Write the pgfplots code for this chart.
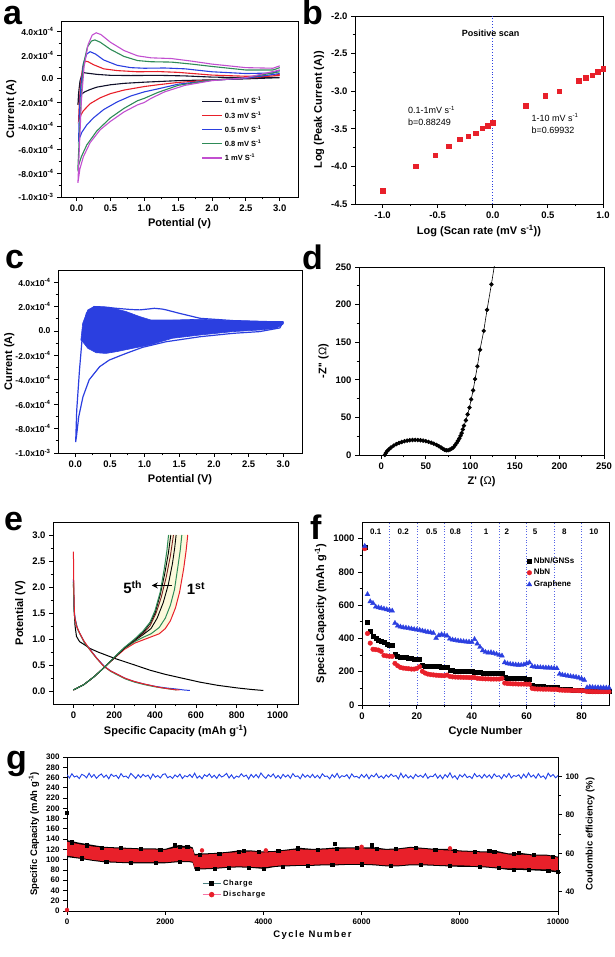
\documentclass[border=0pt]{standalone}
\usepackage{fontspec}
\setmainfont{Liberation Sans}
\usepackage{pgfplots}
\pgfplotsset{compat=1.18}
\usetikzlibrary{arrows.meta}

\definecolor{cvred}{HTML}{E8202A}
\definecolor{cvblue}{HTML}{2B3FE0}
\definecolor{cvgreen}{HTML}{2E8B57}
\definecolor{cvmag}{HTML}{C24FD0}
\definecolor{cvblack}{HTML}{10102A}
\definecolor{cvbrown}{HTML}{7A2020}
\definecolor{lightyel}{HTML}{FCF9DC}
\definecolor{ceblue}{HTML}{2040E8}

\newcommand{\fs}[1]{\fontsize{#1}{#1}\selectfont}
\newcommand{\sy}[1]{\textsuperscript{#1}}

\pgfplotsset{
  panel/.style={
    scale only axis, anchor=south west, clip=true,
    axis line style={line width=0.9pt},
    tick align=outside, tick pos=left,
    major tick length=4pt, minor tick length=2.5pt,
    every tick/.style={black, line width=0.8pt},
    tick label style={font=\fs{9.5}\bfseries},
    label style={font=\fs{11}\bfseries},
    /pgf/number format/assume math mode=true,
    /pgf/number format/1000 sep={},
    scaled ticks=false,
  },
  onedec/.style={/pgf/number format/.cd, fixed, fixed zerofill, precision=1},
}

\begin{document}
\begin{tikzpicture}
\path[use as bounding box] (0,0) rectangle (614pt,957pt);

% ---------------- a ----------------
\begin{axis}[panel, at={(61pt,760pt)}, width=237pt, height=176pt,
  xmin=-0.23, xmax=3.27, ymin=-10, ymax=4.9,
  xtick={0,0.5,1,1.5,2,2.5,3}, xticklabels={0.0,0.5,1.0,1.5,2.0,2.5,3.0},
  minor x tick num=1,
  ytick={-10,-8,-6,-4,-2,0,2,4},
  yticklabels={-1.0x10\sy{-3},-8.0x10\sy{-4},-6.0x10\sy{-4},-4.0x10\sy{-4},-2.0x10\sy{-4},0.0,2.0x10\sy{-4},4.0x10\sy{-4}},
  yticklabel style={font=\fs{8.6}\bfseries},
  minor y tick num=1,
  xlabel={Potential (v)}, ylabel={Current (A)},
  ylabel style={at={(axis description cs:-0.21,0.5)}, anchor=center},
  legend style={at={(0.58,0.59)}, anchor=north west, draw=none, fill=none,
    font=\fs{7.5}\bfseries, row sep=2pt},
  legend cell align=left,
  legend image code/.code={\draw[#1,line width=1.3pt] (0pt,0pt) -- (20pt,0pt);}]
\addplot[cvblack, line width=1.1pt] coordinates {(3.0,0.1) (2.5,0.0) (2.0,-0.08) (1.5,-0.15) (1.0,-0.28) (0.7,-0.38) (0.5,-0.5) (0.3,-0.7) (0.2,-0.9) (0.12,-1.1) (0.06,-1.35) (0.03,-1.7) (0.02,-2.2) (0.03,-1.2) (0.05,-0.2) (0.08,0.4) (0.11,0.52) (0.16,0.48) (0.3,0.38) (0.5,0.3) (0.8,0.28) (1.2,0.3) (1.6,0.25) (2.0,0.15) (2.5,0.1) (3.0,0.12)};
\addlegendentry{0.1 mV S\sy{-1}}
\addplot[cvred, line width=1.1pt] coordinates {(3.0,0.3) (2.5,0.05) (2.0,-0.1) (1.5,-0.3) (1.2,-0.5) (1.0,-0.65) (0.7,-0.95) (0.5,-1.25) (0.35,-1.6) (0.2,-2.1) (0.1,-2.7) (0.05,-3.2) (0.03,-3.5) (0.04,-2.0) (0.06,-0.3) (0.09,1.0) (0.13,1.5) (0.17,1.45) (0.25,1.2) (0.4,0.85) (0.6,0.7) (0.9,0.6) (1.2,0.62) (1.5,0.55) (2.0,0.32) (2.5,0.22) (2.9,0.25) (3.0,0.4)};
\addlegendentry{0.3 mV S\sy{-1}}
\addplot[cvblue, line width=1.1pt] coordinates {(3.0,0.45) (2.5,0.05) (2.0,-0.12) (1.5,-0.45) (1.2,-0.85) (1.0,-1.1) (0.8,-1.45) (0.6,-1.95) (0.4,-2.6) (0.25,-3.3) (0.15,-3.9) (0.08,-4.5) (0.03,-5.2) (0.04,-3.0) (0.06,-0.8) (0.1,1.3) (0.15,2.1) (0.2,2.3) (0.28,2.1) (0.4,1.6) (0.6,1.15) (0.8,0.95) (1.0,0.9) (1.3,0.92) (1.6,0.85) (2.0,0.6) (2.5,0.45) (2.9,0.5) (3.0,0.75)};
\addlegendentry{0.5 mV S\sy{-1}}
\addplot[cvgreen, line width=1.1pt] coordinates {(3.0,0.6) (2.5,0.1) (2.0,-0.1) (1.5,-0.55) (1.2,-1.15) (1.0,-1.65) (0.9,-1.85) (0.7,-2.5) (0.5,-3.3) (0.3,-4.4) (0.15,-5.6) (0.07,-6.6) (0.02,-7.5) (0.04,-5.0) (0.07,-1.5) (0.1,1.2) (0.16,2.7) (0.22,3.2) (0.27,3.3) (0.35,3.1) (0.5,2.5) (0.7,1.9) (0.9,1.55) (1.1,1.45) (1.4,1.42) (1.7,1.25) (2.0,1.05) (2.5,0.75) (2.9,0.75) (3.0,0.95)};
\addlegendentry{0.8 mV S\sy{-1}}
\addplot[cvmag, line width=1.1pt] coordinates {(3.0,0.75) (2.5,0.1) (2.0,-0.15) (1.6,-0.55) (1.3,-1.1) (1.1,-1.65) (1.0,-2.0) (0.9,-2.2) (0.7,-2.8) (0.5,-3.6) (0.35,-4.3) (0.2,-5.4) (0.1,-6.6) (0.05,-7.6) (0.02,-8.8) (0.04,-6.0) (0.07,-2.0) (0.11,1.0) (0.17,2.9) (0.23,3.7) (0.29,3.9) (0.36,3.75) (0.5,3.1) (0.7,2.4) (0.9,1.95) (1.1,1.78) (1.4,1.72) (1.7,1.5) (2.0,1.25) (2.5,0.95) (2.9,0.9) (3.0,1.1)};
\addlegendentry{1 mV S\sy{-1}}
\end{axis}

% ---------------- b ----------------
\begin{axis}[panel, at={(355pt,753pt)}, width=248pt, height=188pt,
  xmin=-1.25, xmax=1.0, ymin=-4.5, ymax=-2.0,
  xtick={-1,-0.5,0,0.5,1}, ytick={-4.5,-4,-3.5,-3,-2.5,-2},
  minor x tick num=1, minor y tick num=1,
  xticklabel style={onedec}, yticklabel style={onedec},
  xlabel={Log (Scan rate (mV s\sy{-1}))}, ylabel={Log (Peak Current (A))}]
\addplot[cvblue, dotted, line width=0.8pt] coordinates {(0,-4.5) (0,-2.0)};
\addplot[only marks, mark=square*, mark size=2.3pt, color=cvred] coordinates {
(-1.0,-4.32) (-0.699,-4.0) (-0.523,-3.85) (-0.398,-3.73) (-0.301,-3.64) (-0.222,-3.60) (-0.155,-3.56) (-0.097,-3.49) (-0.046,-3.46) (0,-3.42)
(0.301,-3.19) (0.477,-3.06) (0.602,-3.00) (0.778,-2.86) (0.845,-2.82) (0.903,-2.79) (0.954,-2.74) (1.0,-2.70)};
\node[font=\fs{9}\bfseries] at (axis cs:-0.02,-2.225) {Positive scan};
\node[font=\fs{9}, anchor=west] at (axis cs:-0.80,-3.25) {0.1-1mV s\sy{-1}};
\node[font=\fs{9}, anchor=west] at (axis cs:-0.80,-3.42) {b=0.88249};
\node[font=\fs{9}, anchor=west] at (axis cs:0.32,-3.35) {1-10 mV s\sy{-1}};
\node[font=\fs{9}, anchor=west] at (axis cs:0.32,-3.52) {b=0.69932};
\end{axis}

% ---------------- c ----------------
\begin{axis}[panel, at={(58pt,504pt)}, width=244pt, height=183pt,
  xmin=-0.25, xmax=3.27, ymin=-10, ymax=5.0,
  xtick={0,0.5,1,1.5,2,2.5,3}, xticklabels={0.0,0.5,1.0,1.5,2.0,2.5,3.0},
  minor x tick num=1,
  ytick={-10,-8,-6,-4,-2,0,2,4},
  yticklabels={-1.0x10\sy{-3},-8.0x10\sy{-4},-6.0x10\sy{-4},-4.0x10\sy{-4},-2.0x10\sy{-4},0.0,2.0x10\sy{-4},4.0x10\sy{-4}},
  yticklabel style={font=\fs{8.6}\bfseries},
  minor y tick num=1,
  xlabel={Potential (V)}, ylabel={Current (A)},
  ylabel style={at={(axis description cs:-0.2,0.5)}, anchor=center}]
\addplot[fill=cvblue, draw=cvblue, line width=0.6pt] coordinates {(0.08,-0.74) (0.106,0.63) (0.18,1.73) (0.27,2.0) (0.49,1.95) (0.73,1.6) (0.93,1.18) (1.09,0.9) (1.4,0.9) (1.8,0.96) (2.28,0.85) (2.76,0.77) (3.0,0.75) (3.0,0.58) (2.9,0.22) (2.66,0.08) (2.28,-0.05) (1.8,-0.33) (1.4,-0.6) (1.07,-1.15) (0.83,-1.42) (0.59,-1.7) (0.44,-1.84) (0.3,-1.78) (0.18,-1.42) (0.106,-0.88) (0.08,-0.74)};
\addplot[cvblue, line width=1.2pt] coordinates {(3.0,0.75) (2.95,0.25) (2.66,-0.05) (2.28,-0.19) (1.8,-0.47) (1.31,-0.88) (0.97,-1.34) (0.73,-1.84) (0.49,-2.38) (0.35,-2.93) (0.2,-4.0) (0.11,-5.4) (0.05,-7.0) (0.015,-8.7) (0.005,-9.1) (0.02,-6.5) (0.06,-3.2) (0.1,-0.5) (0.16,1.45) (0.27,2.0) (0.4,1.97) (0.59,1.86) (0.8,1.76) (0.93,1.73) (1.05,1.8) (1.14,1.86) (1.25,1.8) (1.31,1.73) (1.5,1.45) (1.8,1.04) (2.28,0.85) (2.76,0.77) (3.0,0.75)};
\end{axis}

% ---------------- d ----------------
\begin{axis}[panel, at={(359pt,502pt)}, width=245pt, height=188pt,
  xmin=-25, xmax=250, ymin=0, ymax=250,
  xtick={0,50,100,150,200,250}, ytick={0,50,100,150,200,250},
  minor x tick num=1, minor y tick num=1,
  xlabel={Z\textquotesingle\ ({\mdseries Ω})}, ylabel={-Z\textquotesingle\textquotesingle\ ({\mdseries Ω})}]
\addplot[black, line width=0.6pt, mark=*, mark size=1.9pt] coordinates {
(4,0) (5,2.5) (6.5,5) (8.5,7.5) (11,10) (14,12.5) (17,14.5) (20,16) (23,17.3) (26,18.3) (29,19.1) (32,19.6) (35,19.9) (38,20) (41,19.9) (44,19.6) (47,19.1) (50,18.4) (53,17.5) (56,16.4) (59,15) (62,13.4) (64.5,11.8) (67,10) (69,8.4) (71,7) (73,6.2) (75,6.3) (77,7.2) (79,8.6) (80.9,10) (82.8,13) (84.6,16) (86.1,19) (87.6,22) (89,25.5) (90.2,29) (91.5,34) (92.8,39) (95,46) (96.9,54) (99,63) (100.9,74) (103.1,86) (105.3,101) (107.9,118) (110.8,140) (115,165) (118.7,193) (123.6,227) (127,252)};
\end{axis}

% ---------------- e ----------------
\begin{axis}[panel, at={(53pt,253pt)}, width=245pt, height=182pt,
  xmin=-100, xmax=1100, ymin=-0.25, ymax=3.25,
  xtick={0,200,400,600,800,1000}, ytick={0,0.5,1,1.5,2,2.5,3},
  minor x tick num=1, minor y tick num=1,
  yticklabel style={onedec},
  xlabel={Specific Capacity (mAh g\sy{-1})}, ylabel={Potential (V)}]
\addplot[fill=lightyel, draw=none] coordinates {(250,0.8) (300,0.92) (340,0.98) (380,1.04) (420,1.1) (450,1.2) (475,1.35) (500,1.6) (520,1.9) (540,2.35) (552,2.7) (560,3.0) (466,3.0) (458,2.7) (445,2.35) (425,1.9) (400,1.55) (375,1.32) (340,1.15) (300,1.0) (250,0.83)};
\addplot[black, line width=1pt] coordinates {(0,2.05) (3,1.6) (8,1.25) (15,1.05) (30,0.95) (50,0.9) (80,0.82) (120,0.75) (200,0.63) (300,0.5) (375,0.40) (450,0.32) (540,0.24) (620,0.17) (705,0.11) (800,0.06) (870,0.03) (930,0.01)};
\addplot[cvblue, line width=1pt] coordinates {(0,2.15) (3,1.6) (8,1.4) (20,1.2) (35,1.08) (55,0.93) (85,0.78) (115,0.63) (150,0.48) (185,0.38) (215,0.32) (255,0.24) (300,0.18) (350,0.13) (400,0.09) (450,0.06) (500,0.04) (540,0.02) (570,0.01)};
\addplot[cvgreen, line width=1pt] coordinates {(0,2.1) (3,1.55) (8,1.38) (20,1.19) (35,1.07) (55,0.92) (85,0.77) (115,0.62) (150,0.47) (185,0.37) (215,0.31) (255,0.23) (300,0.17) (350,0.12) (400,0.08) (450,0.05) (505,0.02)};
\addplot[cvred, line width=1pt] coordinates {(0,2.68) (2,2.0) (5,1.45) (15,1.25) (30,1.12) (50,0.97) (80,0.8) (110,0.65) (145,0.49) (180,0.39) (211,0.33) (250,0.25) (293,0.19) (340,0.14) (375,0.11) (420,0.07) (470,0.04) (507,0.02) (520,0.02)};
% charge curves
\addplot[cvred, line width=1pt] coordinates {(0,0.02) (50,0.12) (100,0.27) (150,0.45) (200,0.63) (250,0.8) (300,0.92) (340,0.98) (380,1.04) (420,1.1) (450,1.2) (475,1.35) (500,1.6) (520,1.9) (540,2.35) (552,2.7) (560,3.0)};
\addplot[cvgreen, line width=1pt] coordinates {(0,0.02) (50,0.12) (100,0.27) (150,0.45) (200,0.64) (250,0.82) (300,0.95) (340,1.03) (380,1.1) (420,1.22) (450,1.4) (475,1.65) (495,1.95) (512,2.4) (523,2.7) (531,3.0)};
\addplot[black, line width=0.9pt] coordinates {(0,0.02) (50,0.12) (100,0.27) (150,0.45) (200,0.64) (250,0.83) (300,0.97) (340,1.08) (380,1.2) (410,1.4) (440,1.7) (465,2.05) (485,2.45) (496,2.75) (503,3.0)};
\addplot[cvbrown, line width=0.9pt] coordinates {(0,0.02) (50,0.12) (100,0.27) (150,0.45) (200,0.64) (250,0.83) (300,0.98) (340,1.1) (375,1.25) (405,1.5) (430,1.8) (455,2.2) (475,2.6) (490,3.0)};
\addplot[black, line width=0.9pt] coordinates {(0,0.02) (50,0.12) (100,0.27) (150,0.45) (200,0.64) (250,0.83) (300,0.99) (340,1.12) (375,1.3) (400,1.5) (425,1.85) (447,2.25) (465,2.65) (477,3.0)};
\addplot[cvgreen, line width=1pt] coordinates {(0,0.02) (50,0.12) (100,0.27) (150,0.45) (200,0.65) (250,0.84) (300,1.0) (340,1.15) (375,1.32) (400,1.55) (425,1.9) (445,2.35) (458,2.7) (466,3.0)};
\draw[-{Stealth[length=6pt,width=6pt]}, line width=1pt] (axis cs:482,2.03) -- (axis cs:384,2.03);
\node[font=\fs{15}\bfseries] at (axis cs:290,2.0) {5\sy{th}};
\node[font=\fs{15}\bfseries] at (axis cs:600,1.97) {1\sy{st}};
\end{axis}

% ---------------- f ----------------
\begin{axis}[panel, at={(362pt,252pt)}, width=247pt, height=183pt,
  xmin=0, xmax=90, ymin=0, ymax=1100,
  xtick={0,20,40,60,80}, ytick={0,200,400,600,800,1000},
  minor x tick num=1, minor y tick num=1,
  xlabel={Cycle Number}, ylabel={Special Capacity (mAh g\sy{-1})},
  legend style={at={(0.655,0.83)}, anchor=north west, draw=none, fill=none,
    font=\fs{8}\bfseries, row sep=0.5pt},
  legend cell align=left]
\foreach \v in {10,20,...,80} {\edef\tmp{\noexpand\draw[cvblue!80, dotted, line width=0.7pt] (axis cs:\v,0) -- (axis cs:\v,1100);}\tmp}
\addplot[only marks, mark=square*, mark size=2pt, black] coordinates {
(1,950) (2,500) (3,445) (4,415) (5,400) (6,392) (7,383) (8,375) (9,368) (10,362) (11,358)
(12,305) (13,295) (14,290) (15,287) (16,285) (17,283) (18,280) (19,278) (20,276) (21,275)
(22,242) (23,236) (24,234) (25,233) (26,232) (27,231) (28,231) (29,230) (30,229) (31,228)
(32,212) (33,208) (34,206) (35,205) (36,204) (37,203) (38,203) (39,202) (40,201) (41,200)
(42,196) (43,195) (44,194) (45,194) (46,193) (47,193) (48,192) (49,192) (50,191) (51,191)
(52,168) (53,163) (54,161) (55,160) (56,160) (57,160) (58,159) (59,159) (60,158) (61,158)
(62,118) (63,113) (64,111) (65,110) (66,110) (67,109) (68,109) (69,108) (70,108) (71,107)
(72,96) (73,93) (74,92) (75,92) (76,92) (77,91) (78,91) (79,91) (80,90) (81,90)
(82,86) (83,85) (84,84) (85,84) (86,83) (87,83) (88,83) (89,82) (90,82)};
\addlegendentry{NbN/GNSs}
\addplot[only marks, mark=*, mark size=2.3pt, cvred] coordinates {
(1,940) (2,430) (3,372) (4,335) (5,333) (6,330) (7,322) (8,298) (9,295) (10,293) (11,292)
(12,250) (13,236) (14,226) (15,222) (16,220) (17,218) (18,216) (19,216) (20,220) (21,230)
(22,202) (23,192) (24,186) (25,183) (26,181) (27,179) (28,178) (29,177) (30,176) (31,180)
(32,172) (33,169) (34,168) (35,167) (36,167) (37,166) (38,166) (39,165) (40,165) (41,165)
(42,161) (43,159) (44,158) (45,157) (46,157) (47,156) (48,156) (49,156) (50,156) (51,160)
(52,132) (53,129) (54,128) (55,127) (56,127) (57,126) (58,126) (59,126) (60,125) (61,125)
(62,100) (63,97) (64,96) (65,96) (66,95) (67,95) (68,95) (69,94) (70,94) (71,94)
(72,90) (73,89) (74,88) (75,88) (76,87) (77,87) (78,87) (79,86) (80,86) (81,86)
(82,81) (83,81) (84,80) (85,80) (86,80) (87,80) (88,80) (89,80) (90,80)};
\addlegendentry{NbN}
\addplot[only marks, mark=triangle*, mark size=2.8pt, cvblue] coordinates {
(1,955) (2,665) (3,622) (4,612) (5,590) (6,586) (7,582) (8,578) (9,574) (10,570) (11,566)
(12,492) (13,476) (14,470) (15,466) (16,464) (17,461) (18,458) (19,455) (20,452) (21,450)
(22,446) (23,442) (24,439) (25,436) (26,432) (27,402) (28,418) (29,424) (30,420) (31,416)
(32,398) (33,392) (34,389) (35,386) (36,384) (37,382) (38,380) (39,379) (40,378) (41,395)
(42,368) (43,348) (44,328) (45,318) (46,314) (47,316) (48,311) (49,306) (50,300) (51,296)
(52,256) (53,249) (54,246) (55,244) (56,242) (57,241) (58,240) (59,243) (60,250) (61,255)
(62,232) (63,229) (64,227) (65,226) (66,225) (67,224) (68,224) (69,222) (70,221) (71,220)
(72,186) (73,181) (74,178) (75,175) (76,172) (77,170) (78,168) (79,164) (80,158) (81,150)
(82,105) (83,108) (84,106) (85,105) (86,105) (87,104) (88,104) (89,103) (90,103)};
\addlegendentry{Graphene}
\foreach \x/\t in {5/0.1,15/0.2,25.4/0.5,34/0.8,45.2/1,52.8/2,63.1/5,73.7/8,84.5/10} {\edef\tmp{\noexpand\node[font=\noexpand\fs{8}\noexpand\bfseries] at (axis cs:\x,1042) {\t};}\tmp}
\end{axis}

% ---------------- g ----------------
\begin{axis}[panel, at={(67pt,46pt)}, width=491pt, height=154pt,
  xmin=0, xmax=10000, ymin=0, ymax=300,
  xtick={0,2000,4000,6000,8000,10000}, ytick={0,20,...,300},
  tick label style={font=\fs{8}\bfseries},
  label style={font=\fs{9.5}\bfseries},
  xlabel={\addfontfeatures{LetterSpace=15}Cycle Number},
  ylabel={Specific Capacity (mAh g\sy{-1})},
  legend style={at={(0.269,0.227)}, anchor=north west, draw=none, fill=none,
    font=\fs{7.5}\bfseries\addfontfeatures{LetterSpace=10}, row sep=0pt},
  legend cell align=left,
  legend image code/.code={\draw[#1, mark repeat=2, mark phase=2] plot coordinates {(0pt,0pt) (9pt,0pt) (18pt,0pt)};}]
\addplot[fill=black, draw=none, forget plot] coordinates {
(0,138) (250,133) (500,129) (750,125) (1000,124) (1250,123) (1500,122) (1750,122) (2000,121) (2250,128) (2500,126) (2560,124) (2600,111) (2750,112) (3000,113) (3250,115) (3500,118) (3750,118) (4000,116) (4250,117) (4500,120) (4750,123) (5000,121) (5250,122) (5500,124) (5750,124) (6000,124) (6250,124) (6500,121) (6750,122) (7000,125) (7250,123) (7500,121) (7750,121) (8000,118) (8250,117) (8500,116) (8750,117) (9000,112) (9250,113) (9500,110) (9750,110) (10000,106)
(10000,75) (9750,78) (9500,79) (9250,80) (9000,80) (8750,83) (8500,85) (8250,86) (8000,86) (7750,87) (7500,88) (7250,89) (7000,89) (6750,87) (6500,87) (6250,89) (6000,90) (5750,90) (5500,89) (5250,89) (5000,88) (4750,88) (4500,87) (4250,86) (4000,82) (3750,84) (3500,85) (3250,84) (3000,82) (2750,81) (2600,81) (2560,94) (2500,95) (2250,95) (2000,93) (1750,93) (1500,93) (1250,93) (1000,94) (750,95) (500,98) (250,102) (0,105)};
\addplot[fill=cvred, draw=none, forget plot] coordinates {
(0,135) (250,130) (500,126) (750,123) (1000,122) (1250,121) (1500,120) (1750,120) (2000,119) (2250,124) (2500,123) (2560,121) (2600,108) (2750,110) (3000,111) (3250,113) (3500,115) (3750,116) (4000,114) (4250,115) (4500,118) (4750,120) (5000,119) (5250,120) (5500,121) (5750,122) (6000,122) (6250,121) (6500,119) (6750,120) (7000,123) (7250,121) (7500,119) (7750,118) (8000,116) (8250,115) (8500,114) (8750,114) (9000,110) (9250,110) (9500,108) (9750,108) (10000,104)
(10000,78) (9750,81) (9500,82) (9250,83) (9000,83) (8750,85) (8500,87) (8250,88) (8000,89) (7750,89) (7500,90) (7250,91) (7000,91) (6750,89) (6500,89) (6250,91) (6000,92) (5750,92) (5500,91) (5250,91) (5000,90) (4750,90) (4500,89) (4250,88) (4000,85) (3750,86) (3500,87) (3250,86) (3000,84) (2750,83) (2600,84) (2560,96) (2500,97) (2250,97) (2000,95) (1750,95) (1500,95) (1250,95) (1000,96) (750,97) (500,100) (250,104) (0,108)};
\addplot[only marks, mark=square*, mark size=1.6pt, black, forget plot] coordinates {
(0,192) (2200,128) (3600,117) (4700,123) (5450,131) (6200,128) (8600,118) (9200,114)
(100,134) (400,128) (700,124) (1100,123) (1500,121) (1900,120) (2300,126) (2450,125) (2700,110) (3100,112) (3500,116) (3900,115) (4300,117) (4700,121) (5100,120) (5500,122) (5900,123) (6300,122) (6700,121) (7100,124) (7500,120) (7900,118) (8300,116) (8700,116) (9100,111) (9500,109) (9900,106)
(300,103) (800,96) (1300,94) (1800,94) (2300,96) (2650,82) (3000,83) (3300,85) (3700,85) (4000,83) (4400,87) (4900,89) (5400,90) (6000,91) (6600,88) (7200,90) (7800,88) (8400,86) (8800,84) (9100,81) (9400,81) (9800,79) (10000,76)};
\addplot[only marks, mark=*, mark size=2pt, cvred, forget plot] coordinates {(0,2) (2750,118) (4050,118) (6000,125) (7800,122)};
\addlegendimage{line width=0.8pt, color=teal!40!gray, mark=square*, mark size=2pt, mark options={fill=black, draw=black}}
\addlegendentry{Charge}
\addlegendimage{line width=0.8pt, color=magenta!40!pink, mark=*, mark size=2.3pt, mark options={fill=cvred, draw=cvred}}
\addlegendentry{Discharge}
\end{axis}
\begin{axis}[panel, at={(67pt,46pt)}, width=491pt, height=154pt,
  xmin=0, xmax=10000, ymin=30, ymax=110,
  axis x line=none, axis y line*=right, ytick pos=right,
  ytick={40,60,80,100}, minor y tick num=1,
  tick label style={font=\fs{8}\bfseries},
  label style={font=\fs{9.5}\bfseries},
  ylabel={Coulombic efficiency (\%)}]
\addplot[ceblue, line width=0.9pt] coordinates {
(0,100.8) (50,99.1) (100,101.3) (150,99.6) (200,100.2) (250,98.8) (300,101.0) (350,100.4) (400,99.2) (450,101.6)
(500,99.5) (550,100.9) (600,98.9) (650,100.3) (700,101.2) (750,99.4) (800,100.6) (850,98.7) (900,101.1) (950,99.9)
(1000,100.5) (1050,98.8) (1100,101.4) (1150,99.7) (1200,100.1) (1250,99.0) (1300,101.5) (1350,100.2) (1400,98.9) (1450,100.8)
(1500,99.3) (1550,101.0) (1600,99.8) (1650,100.6) (1700,98.6) (1750,101.2) (1800,99.5) (1850,100.4) (1900,99.1) (1950,100.9)
(2000,101.3) (2050,99.2) (2100,100.0) (2150,98.9) (2200,100.7) (2250,99.6) (2300,101.1) (2350,98.8) (2400,100.3) (2450,99.7)
(2500,100.9) (2550,99.4) (2600,101.6) (2650,99.0) (2700,100.2) (2750,98.7) (2800,100.8) (2850,99.9) (2900,101.2) (2950,99.3)
(3000,100.5) (3050,98.9) (3100,101.0) (3150,99.6) (3200,100.3) (3250,101.5) (3300,99.1) (3350,100.7) (3400,98.8) (3450,100.1)
(3500,99.5) (3550,101.3) (3600,99.8) (3650,100.6) (3700,98.6) (3750,101.0) (3800,99.4) (3850,100.9) (3900,99.2) (3950,101.7)
(4000,100.0) (4050,98.9) (4100,100.8) (4150,99.7) (4200,101.2) (4250,99.1) (4300,100.4) (4350,98.8) (4400,101.0) (4450,99.6)
(4500,100.7) (4550,99.0) (4600,101.4) (4650,99.8) (4700,100.2) (4750,98.7) (4800,101.1) (4850,99.5) (4900,100.6) (4950,99.3)
(5000,101.0) (5050,99.2) (5100,100.5) (5150,98.9) (5200,101.3) (5250,99.9) (5300,100.1) (5350,98.6) (5400,100.9) (5450,99.4)
(5500,101.5) (5550,99.1) (5600,100.3) (5650,99.8) (5700,100.8) (5750,98.8) (5800,101.2) (5850,99.6) (5900,100.0) (5950,99.0)
(6000,100.9) (6050,99.4) (6100,101.0) (6150,98.7) (6200,100.6) (6250,99.7) (6300,101.4) (6350,99.2) (6400,100.2) (6450,98.9)
(6500,100.7) (6550,99.5) (6600,101.1) (6650,99.9) (6700,100.4) (6750,98.6) (6800,101.6) (6850,99.3) (6900,100.8) (6950,99.1)
(7000,100.2) (7050,98.8) (7100,101.0) (7150,99.7) (7200,100.5) (7250,99.4) (7300,101.3) (7350,98.9) (7400,100.1) (7450,99.8)
(7500,101.2) (7550,99.0) (7600,100.6) (7650,98.7) (7700,100.9) (7750,99.5) (7800,101.8) (7850,99.2) (7900,100.3) (7950,98.4)
(8000,100.8) (8050,99.6) (8100,101.1) (8150,99.3) (8200,100.0) (8250,98.8) (8300,101.4) (8350,99.7) (8400,100.5) (8450,99.0)
(8500,101.0) (8550,99.4) (8600,100.7) (8650,98.9) (8700,101.2) (8750,99.8) (8800,100.3) (8850,98.7) (8900,100.9) (8950,99.5)
(9000,101.5) (9050,99.1) (9100,100.4) (9150,99.9) (9200,100.8) (9250,98.8) (9300,101.1) (9350,99.3) (9400,101.7) (9450,99.6)
(9500,100.6) (9550,99.0) (9600,101.3) (9650,99.4) (9700,100.2) (9750,98.6) (9800,101.6) (9850,99.8) (9900,100.9) (9950,99.2)
(10000,100.4)};
\end{axis}

% panel letters
\foreach \x/\y/\l in {3/932/a, 302/932/b, 5/688/c, 302/687/d, 4/426/e, 310/417/f, 6/187/g}
  {\node[anchor=base west, inner sep=0pt, font=\fs{34}\bfseries] at (\x pt,\y pt) {\l};}
\end{tikzpicture}
\end{document}
